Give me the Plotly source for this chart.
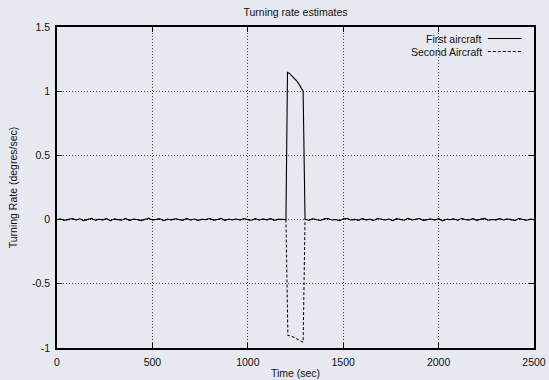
import plotly.graph_objects as go

# ---- data ----
t_before = list(range(0, 1201, 20))
t_after = list(range(1300, 2501, 20))

noise_before = [
    0.000, 0.005, -0.006, 0.002, 0.008, -0.003, 0.006, -0.008, 0.001, 0.009,
    -0.005, 0.003, -0.002, 0.007, -0.009, 0.004, 0.000, -0.003, 0.008, -0.006,
    0.003, 0.001, -0.008, 0.004, 0.010, -0.003, 0.002, 0.006, -0.008, 0.003,
    -0.002, 0.006, 0.000, -0.005, 0.009, -0.003, 0.005, -0.007, 0.003, 0.000,
    0.008, -0.005, 0.001, 0.009, -0.006, 0.003, -0.002, 0.005, -0.003, 0.008,
    0.000, -0.005, 0.007, -0.003, 0.005, -0.002, 0.008, -0.006, 0.003, 0.001,
    0.000,
]
noise_after = [
    0.003, -0.005, 0.006, 0.000, -0.007, 0.005, 0.008, -0.003, 0.001, -0.008,
    0.005, 0.009, -0.003, 0.002, -0.005, 0.007, -0.002, 0.003, -0.007, 0.008,
    0.000, -0.003, 0.005, -0.008, 0.007, 0.002, -0.005, 0.010, -0.003, 0.003,
    0.008, -0.006, 0.001, 0.005, -0.003, 0.007, -0.009, 0.003, 0.000, 0.005,
    -0.005, 0.008, 0.001, -0.003, 0.007, -0.006, 0.003, 0.009, -0.005, 0.001,
    -0.002, 0.007, -0.003, 0.005, 0.000, -0.007, 0.008, 0.001, -0.005, 0.003,
    0.000,
]

spike_t_first = [1208, 1217, 1231, 1245, 1257, 1268, 1276, 1287, 1290]
spike_first = [1.147, 1.141, 1.12, 1.10, 1.079, 1.055, 1.034, 1.0, 1.0]

spike_t_second = [1210, 1225, 1245, 1270, 1290]
spike_second = [-0.903, -0.905, -0.92, -0.94, -0.955]

x_first = t_before + spike_t_first + t_after
y_first = noise_before + spike_first + noise_after
x_second = t_before + spike_t_second + t_after
y_second = noise_before + spike_second + noise_after

x_ticks = [0, 500, 1000, 1500, 2000, 2500]
y_ticks = [-1, -0.5, 0, 0.5, 1, 1.5]
y_tick_text = ["-1", "-0.5", "0", "0.5", "1", "1.5"]

names = ["First aircraft", "Second Aircraft"]

# ---- figure ----
BG = "#e8e8f0"
FONT = "Liberation Sans, Arial, sans-serif"
TXT = "#111111"

fig = go.Figure()
fig.add_trace(go.Scatter(x=x_second, y=y_second, mode="lines", name=names[1],
                         line=dict(color="black", width=1, dash="3px,2px"),
                         showlegend=False))
fig.add_trace(go.Scatter(x=x_first, y=y_first, mode="lines", name=names[0],
                         line=dict(color="black", width=1.1),
                         showlegend=False))

axis_common = dict(
    showline=True, linecolor="black", linewidth=1.8, mirror="ticks",
    ticks="inside", ticklen=5, tickcolor="black", tickwidth=1,
    showgrid=True, gridcolor="#444444", gridwidth=1, griddash="1px,2px",
    zeroline=False, automargin=False,
    tickfont=dict(family=FONT, size=10.5, color=TXT),
)

fig.update_xaxes(range=[0, 2500], tickvals=x_ticks,
                 ticktext=[str(v) for v in x_ticks],
                 title=dict(text="Time (sec)", font=dict(family=FONT, size=10.5, color=TXT), standoff=3),
                 ticklabelstandoff=3, **axis_common)
fig.update_yaxes(range=[-1, 1.5], tickvals=y_ticks, ticktext=y_tick_text,
                 title=dict(text="Turning Rate (degres/sec)", font=dict(family=FONT, size=10.5, color=TXT), standoff=12),
                 ticklabelstandoff=3, **axis_common)

# legend drawn in the gnuplot style (text left of the line sample)
leg_y = [0.9641, 0.9236]
for name, yy, dash in zip(names, leg_y, ["solid", "3px,2px"]):
    fig.add_annotation(x=0.8958, y=yy, xref="paper", yref="paper",
                       text=name, showarrow=False, xanchor="right", yanchor="middle",
                       font=dict(family=FONT, size=10.5, color=TXT))
    fig.add_shape(type="line", xref="paper", yref="paper",
                  x0=0.9032, x1=0.9742, y0=yy, y1=yy,
                  line=dict(color="black", width=1, dash=dash))

fig.update_layout(
    width=549, height=380,
    margin=dict(l=57, r=15, t=27, b=32),
    paper_bgcolor=BG, plot_bgcolor=BG,
    title=dict(text="Turning rate estimates", x=0.5, xref="paper",
               y=1 - 12.3 / 380, yref="container", yanchor="middle",
               font=dict(family=FONT, size=10.5, color=TXT)),
    showlegend=False,
)

fig.write_html("out.html")
